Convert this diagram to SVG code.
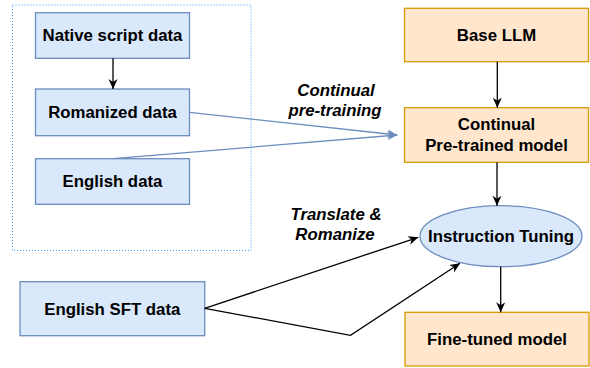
<svg xmlns="http://www.w3.org/2000/svg" width="590" height="368" viewBox="0 0 590 368">
<defs>
<style>
.b{fill:#dae8fc;stroke:#6c8ebf;stroke-width:1.3}
.o{fill:#ffe6cc;stroke:#d79b00;stroke-width:1.3}
.t{font-family:"Liberation Sans",Arial,sans-serif;font-weight:bold;font-size:16.8px;fill:#000;text-anchor:middle}
.i{font-style:italic}
.k{fill:none;stroke:#000;stroke-width:1.3}
.bl{fill:none;stroke:#6c8ebf;stroke-width:1.3}
</style>
<marker id="ak" markerWidth="12" markerHeight="10" refX="10" refY="4.5" orient="auto" markerUnits="userSpaceOnUse">
<path d="M0,0 L10,4.5 L0,9 L3,4.5 z" fill="#000"/>
</marker>
<marker id="ab" markerWidth="12" markerHeight="10" refX="10" refY="4.5" orient="auto" markerUnits="userSpaceOnUse">
<path d="M0,0 L10,4.5 L0,9 L3,4.5 z" fill="#6c8ebf"/>
</marker>
</defs>
<rect x="12.5" y="5" width="238.5" height="245.5" fill="none" stroke="#3399ff" stroke-width="1" stroke-dasharray="1,2"/>
<g id="native"><rect class="b" x="35.5" y="12.7" width="154" height="45.6"/><text class="t" x="112.5" y="41">Native script data</text></g>
<g id="romanized"><rect class="b" x="35.5" y="89" width="154" height="46.7"/><text class="t" x="112.5" y="118.3">Romanized data</text></g>
<g id="english"><rect class="b" x="35.5" y="158.7" width="154" height="45.6"/><text class="t" x="112.5" y="187">English data</text></g>
<g id="sft"><rect class="b" x="20" y="281.7" width="184.7" height="54"/><text class="t" x="112.3" y="314.5">English SFT data</text></g>
<g id="base"><rect class="o" x="404.5" y="8.3" width="184" height="53.4"/><text class="t" x="496.5" y="40.5">Base LLM</text></g>
<g id="cpt"><rect class="o" x="404.5" y="107.7" width="184" height="54.6"/><text class="t" x="496.5" y="130">Continual</text><text class="t" x="496.5" y="150.7">Pre-trained model</text></g>
<g id="it"><ellipse class="b" cx="501" cy="236.2" rx="81" ry="30.5"/><text class="t" x="501" y="242">Instruction Tuning</text></g>
<g id="ft"><rect class="o" x="405" y="312.3" width="184" height="53.7"/><text class="t" x="497" y="345">Fine-tuned model</text></g>
<g id="labels">
<text class="t i" x="336" y="95.7">Continual</text>
<text class="t i" x="335" y="116">pre-training</text>
<text class="t i" x="336" y="219.5">Translate &amp;</text>
<text class="t i" x="335" y="239.5">Romanize</text>
</g>
<g id="connectors">
<line class="k" x1="113" y1="58.3" x2="113" y2="89" marker-end="url(#ak)"/>
<line class="bl" x1="189.5" y1="112.3" x2="397.3" y2="135" marker-end="url(#ab)"/>
<line class="bl" x1="113" y1="158.7" x2="397.3" y2="135" marker-end="url(#ab)"/>
<line class="k" x1="497.3" y1="61.7" x2="497.3" y2="107.7" marker-end="url(#ak)"/>
<line class="k" x1="497" y1="162.3" x2="497" y2="205.7" marker-end="url(#ak)"/>
<line class="k" x1="500.7" y1="266.7" x2="500.7" y2="312.3" marker-end="url(#ak)"/>
<line class="k" x1="204.7" y1="308.3" x2="418.3" y2="237.3" marker-end="url(#ak)"/>
<polyline class="k" points="204.7,308.3 350.5,335.3 460,263.3" marker-end="url(#ak)"/>
</g>
</svg>
